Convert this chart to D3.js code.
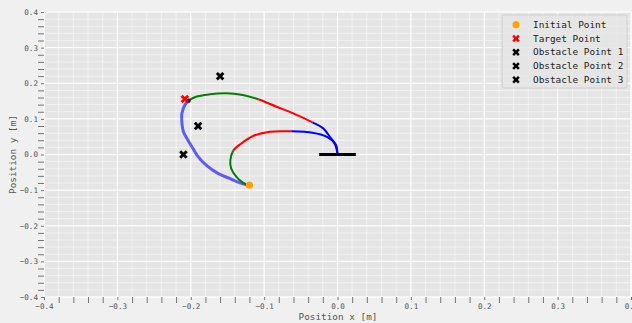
<!DOCTYPE html>
<html>
<head>
<meta charset="utf-8">
<script src="https://cdn.jsdelivr.net/npm/d3@7"></script>
<style>
  html, body { margin: 0; padding: 0; background: #F0F0F0; }
  svg { display: block; }
  text { font-family: "DejaVu Sans Mono", monospace; }
</style>
</head>
<body>
<svg id="chart" width="632" height="323"></svg>
<script>
// Axis ticks
const xMajorTicks = [-0.4, -0.3, -0.2, -0.1, 0.0, 0.1, 0.2, 0.3, 0.4];
const yMajorTicks = [-0.4, -0.3, -0.2, -0.1, 0.0, 0.1, 0.2, 0.3, 0.4];
const minorStep = 0.02;

// Arm base (x from, x to, y)
const baseSegment = [[-0.025, 0.0], [0.025, 0.0]];

// Points of interest
const initialPoint = [-0.12, -0.086];
const targetPoint = [-0.208, 0.156];
const obstacle1 = [-0.16, 0.22];
const obstacle2 = [-0.19, 0.08];
const obstacle3 = [-0.21, 0.0];
const endPoint = [-0.203, 0.151];

// Upper link trajectory; stage colours change at the listed point indices
const upperArm = [[0.000, 0.000], [-0.002, 0.027], [-0.009, 0.046], [-0.020, 0.074], [-0.034, 0.090],
  [-0.061, 0.116], [-0.083, 0.134], [-0.108, 0.155],
  [-0.129, 0.167], [-0.152, 0.172], [-0.174, 0.169], [-0.193, 0.162], [-0.203, 0.151]];
const upperBreaks = [4, 7];

// Lower link trajectory
const lowerArm = [[0.000, 0.000], [-0.004, 0.031], [-0.015, 0.050], [-0.034, 0.061], [-0.063, 0.065],
  [-0.092, 0.064], [-0.115, 0.052], [-0.131, 0.031], [-0.142, 0.011],
  [-0.146, -0.015], [-0.145, -0.039], [-0.138, -0.062], [-0.129, -0.079], [-0.120, -0.087]];
const lowerBreaks = [4, 8];

const stageColors = ["#0000FF", "#FF0000", "#008000"];

// End-effector path from target back to the initial point
const effectorPath = [[-0.203, 0.151], [-0.208, 0.139], [-0.212, 0.116], [-0.212, 0.088], [-0.210, 0.064],
  [-0.204, 0.041], [-0.197, 0.017], [-0.190, -0.006], [-0.179, -0.030], [-0.163, -0.053],
  [-0.147, -0.067], [-0.134, -0.079], [-0.121, -0.087]];

const legendItems = [
  { label: "Initial Point", kind: "circle", color: "#FFA500" },
  { label: "Target Point", kind: "x", color: "#FF0000" },
  { label: "Obstacle Point 1", kind: "x", color: "#000000" },
  { label: "Obstacle Point 2", kind: "x", color: "#000000" },
  { label: "Obstacle Point 3", kind: "x", color: "#000000" }
];

const svg = d3.select("#chart");
const mLeft = 44, mRight = 631, mTop = 12, mBottom = 297;

const x = d3.scaleLinear().domain([-0.4, 0.4]).range([mLeft, mRight]);
const y = d3.scaleLinear().domain([-0.4, 0.4]).range([mBottom, mTop]);

const minorTicks = d3.range(-0.4, 0.4001, minorStep).map(v => +v.toFixed(2));

// Plot background
svg.append("rect").attr("x", mLeft).attr("y", mTop)
  .attr("width", mRight - mLeft).attr("height", mBottom - mTop).attr("fill", "#E5E5E5");

// Grid (minor then major)
const grid = svg.append("g");
grid.selectAll(".vminor").data(minorTicks).join("line")
  .attr("x1", d => x(d)).attr("x2", d => x(d)).attr("y1", mTop).attr("y2", mBottom)
  .attr("stroke", "#FFFFFF").attr("stroke-width", 0.6).attr("stroke-opacity", 0.8);
grid.selectAll(".hminor").data(minorTicks).join("line")
  .attr("y1", d => y(d)).attr("y2", d => y(d)).attr("x1", mLeft).attr("x2", mRight)
  .attr("stroke", "#FFFFFF").attr("stroke-width", 0.6).attr("stroke-opacity", 0.8);
grid.selectAll(".vmajor").data(xMajorTicks).join("line")
  .attr("x1", d => x(d)).attr("x2", d => x(d)).attr("y1", mTop).attr("y2", mBottom)
  .attr("stroke", "#FFFFFF").attr("stroke-width", 1);
grid.selectAll(".hmajor").data(yMajorTicks).join("line")
  .attr("y1", d => y(d)).attr("y2", d => y(d)).attr("x1", mLeft).attr("x2", mRight)
  .attr("stroke", "#FFFFFF").attr("stroke-width", 1);

// Axes
const fmt = d3.format(".1f");
const isMajor = (v, list) => list.some(m => Math.abs(m - v) < 1e-9);
const xAxis = svg.append("g").attr("transform", `translate(0,${mBottom})`)
  .call(d3.axisBottom(x).tickValues(xMajorTicks).tickFormat(fmt).tickSize(3).tickPadding(4));
const xMinor = svg.append("g").attr("transform", `translate(0,${mBottom})`)
  .call(d3.axisBottom(x).tickValues(minorTicks.filter(v => !isMajor(v, xMajorTicks))).tickFormat("").tickSize(6));
const yAxis = svg.append("g").attr("transform", `translate(${mLeft},0)`)
  .call(d3.axisLeft(y).tickValues(yMajorTicks).tickFormat(fmt).tickSize(3).tickPadding(3));
const yMinor = svg.append("g").attr("transform", `translate(${mLeft},0)`)
  .call(d3.axisLeft(y).tickValues(minorTicks.filter(v => !isMajor(v, yMajorTicks))).tickFormat("").tickSize(6));

[xAxis, xMinor, yAxis, yMinor].forEach(g => {
  g.select(".domain").remove();
  g.selectAll(".tick line").attr("stroke", "#555555").attr("stroke-width", 0.8);
  g.selectAll(".tick text").attr("fill", "#555555").attr("font-size", "7.6px")
    .attr("font-family", "DejaVu Sans Mono, monospace");
});

// Axis titles
svg.append("text").attr("x", (mLeft + mRight) / 2 + 0.5).attr("y", 319.5)
  .attr("text-anchor", "middle").attr("font-size", "9.4px").attr("fill", "#555555")
  .text("Position x [m]");
svg.append("text").attr("transform", `translate(15.5,${(mTop + mBottom) / 2}) rotate(-90)`)
  .attr("text-anchor", "middle").attr("font-size", "9.4px").attr("fill", "#555555")
  .text("Position y [m]");

// Trajectories
const line = d3.line().x(d => x(d[0])).y(d => y(d[1])).curve(d3.curveCatmullRom.alpha(0.5));
const plot = svg.append("g");

plot.append("path").datum(effectorPath).attr("d", line)
  .attr("fill", "none").attr("stroke", "#0000FF").attr("stroke-opacity", 0.6)
  .attr("stroke-width", 3).attr("stroke-linecap", "round");

// Draw one smooth arm path, coloured by stage via dash windows along its length
function drawStagedArm(points, breaks) {
  const d = line(points);
  const probe = plot.append("path").attr("d", d).attr("fill", "none").attr("stroke", "none");
  const node = probe.node();
  const total = node.getTotalLength();
  // arc length at each break point
  const breakLengths = breaks.map(i => {
    const px = x(points[i][0]), py = y(points[i][1]);
    let best = 0, bestDist = Infinity;
    for (let s = 0; s <= total; s += 0.25) {
      const p = node.getPointAtLength(s);
      const dd = (p.x - px) ** 2 + (p.y - py) ** 2;
      if (dd < bestDist) { bestDist = dd; best = s; }
    }
    return best;
  });
  probe.remove();
  const edges = [0, ...breakLengths, total];
  for (let k = 0; k < edges.length - 1; k++) {
    const a = edges[k], b = edges[k + 1];
    plot.append("path").attr("d", d).attr("fill", "none")
      .attr("stroke", stageColors[k]).attr("stroke-width", 2)
      .attr("stroke-dasharray", `0 ${a} ${b - a} ${total + 10}`);
  }
}
drawStagedArm(lowerArm, lowerBreaks);
drawStagedArm(upperArm, upperBreaks);

// Arm base
plot.append("line")
  .attr("x1", x(baseSegment[0][0])).attr("x2", x(baseSegment[1][0]))
  .attr("y1", y(baseSegment[0][1])).attr("y2", y(baseSegment[1][1]))
  .attr("stroke", "#000000").attr("stroke-width", 3);

// Filled "X" marker path centred at 0,0
function xMarker(s) {
  const a = s / 2, b = s / 4.2;
  const pts = [[-a, -a + b], [-a + b, -a], [0, -b], [a - b, -a], [a, -a + b], [b, 0],
    [a, a - b], [a - b, a], [0, b], [-a + b, a], [-a, a - b], [-b, 0]];
  return "M" + pts.map(p => p.join(",")).join("L") + "Z";
}

plot.append("circle").attr("cx", x(endPoint[0])).attr("cy", y(endPoint[1]))
  .attr("r", 2.2).attr("fill", "#1a1a5e");

plot.append("circle").attr("cx", x(initialPoint[0])).attr("cy", y(initialPoint[1]))
  .attr("r", 3.6).attr("fill", "#FFA500");

[[targetPoint, "#FF0000"], [obstacle1, "#000000"], [obstacle2, "#000000"], [obstacle3, "#000000"]]
  .forEach(([p, color]) => {
    plot.append("path").attr("d", xMarker(8.5))
      .attr("transform", `translate(${x(p[0])},${y(p[1])})`).attr("fill", color);
  });

// Legend
const lg = svg.append("g").attr("transform", "translate(502,15)");
lg.append("rect").attr("x", 0).attr("y", 0).attr("width", 125).attr("height", 73)
  .attr("rx", 2).attr("fill", "#E5E5E5").attr("fill-opacity", 0.85)
  .attr("stroke", "#CCCCCC").attr("stroke-width", 0.8);
legendItems.forEach((it, i) => {
  const cy = 9.7 + i * 13.75;
  if (it.kind === "circle") {
    lg.append("circle").attr("cx", 14).attr("cy", cy).attr("r", 3.6).attr("fill", it.color);
  } else {
    lg.append("path").attr("d", xMarker(7.5)).attr("transform", `translate(14,${cy})`).attr("fill", it.color);
  }
  lg.append("text").attr("x", 31).attr("y", cy).attr("dy", "0.35em")
    .attr("font-size", "9.4px").attr("fill", "#222222").text(it.label);
});
</script>
</body>
</html>
